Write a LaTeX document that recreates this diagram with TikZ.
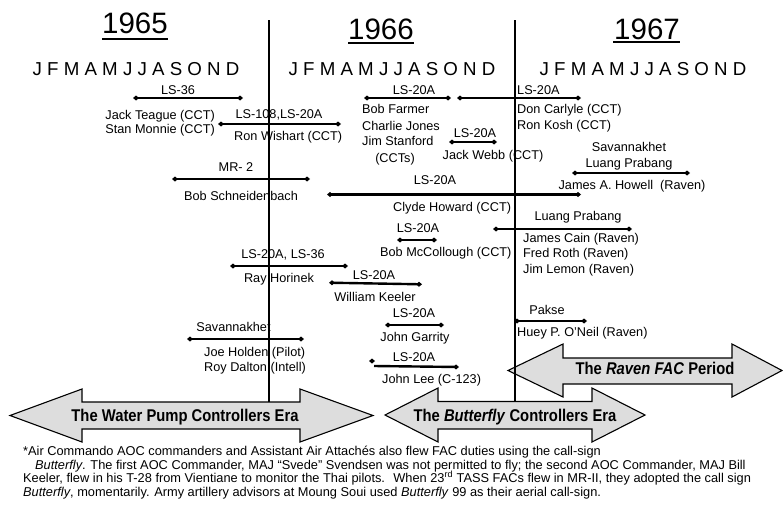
\documentclass[tikz,border=0pt]{standalone}
\usepackage{fontspec}
\setmainfont{Liberation Sans}
\usetikzlibrary{arrows.meta}
\definecolor{eraFill}{RGB}{221,221,221}
\tikzset{
  lbl/.style={inner sep=0pt, anchor=base, yshift=-4.5pt, font=\fontsize{12.7}{14}\selectfont},
  lblL/.style={lbl, anchor=base west},
  lblR/.style={lbl, anchor=base east},
  yearlbl/.style={inner sep=0pt, anchor=base, font=\fontsize{29.5}{32}\selectfont},
  monthlbl/.style={inner sep=0pt, anchor=base, font=\fontsize{18.7}{20}\selectfont},
  timeline/.style={line width=2pt},
  bar/.style={line width=2.4pt, {Diamond[length=6pt,width=5pt]}-{Diamond[length=6pt,width=5pt]}},
  era/.style={draw=black, line width=1.1pt, fill=eraFill, line join=miter},
  eratext/.style={inner sep=0pt, anchor=base, xscale=0.87, font=\fontsize{17}{20}\selectfont\bfseries},
  note/.style={inner sep=0pt, anchor=base west, font=\fontsize{12.8}{14}\selectfont},
}
\begin{document}
\begin{tikzpicture}[x=1pt,y=-1pt]
\useasboundingbox (0,0) rectangle (783,506);
\fill[white] (0,0) rectangle (783,506);

% ---- years and months ----
\node[yearlbl] (y65) at (135,33) {1965};
\node[yearlbl] (y66) at (381,39) {1966};
\node[yearlbl] (y67) at (647,39) {1967};
% underlines under the year headings
\coordinate (u65a) at (102,38);   \coordinate (u65b) at (168,40);
\coordinate (u66a) at (348,41.5); \coordinate (u66b) at (414,43.5);
\coordinate (u67a) at (613,41);   \coordinate (u67b) at (680,43);
\fill[black] (u65a) rectangle (u65b);
\fill[black] (u66a) rectangle (u66b);
\fill[black] (u67a) rectangle (u67b);
\node[monthlbl] (m65) at (136,75) {J F M A M J J A S O N D};
\node[monthlbl] (m66) at (392,75) {J F M A M J J A S O N D};
\node[monthlbl] (m67) at (643,75) {J F M A M J J A S O N D};

% ---- Raven period arrow (under the year divider) ----
\draw[era] (508,370.5) -- (563,344) -- (563,358) -- (732,358) -- (732,344)
  -- (782,370.5) -- (732,397) -- (732,384) -- (563,384) -- (563,397) -- cycle;
\node[eratext] (raven) at (655,374) {The \textit{Raven FAC} Period};

% ---- year dividers ----
\coordinate (d1t) at (268.5,20); \coordinate (d1b) at (268.5,402);
\coordinate (d2t) at (515,20);   \coordinate (d2b) at (515,401);
\draw[timeline] (d1t) -- (d1b);
\draw[timeline] (d2t) -- (d2b);

% ---- era arrows ----
\draw[era] (10,415.5) -- (82,389) -- (82,402) -- (300,402) -- (300,389)
  -- (373,415.5) -- (300,442) -- (300,429) -- (82,429) -- (82,442) -- cycle;
\node[eratext] (water) at (185,421.5) {The Water Pump Controllers Era};
\draw[era] (385,415) -- (438,388) -- (438,401.5) -- (592,401.5) -- (592,388)
  -- (645,415) -- (592,442) -- (592,429) -- (438,429) -- (438,442) -- cycle;
\node[eratext] (butter) at (515,421) {The \textit{Butterfly} Controllers Era};

% ---- service bars ----
% LS-36
\coordinate (b1a) at (133,98); \coordinate (b1b) at (243,98);
\draw[bar] (b1a) -- (b1b);
\node[lbl] (b1l) at (178,90) {LS-36};
\node[lblR] (n1) at (215,115) {Jack Teague (CCT)};
\node[lblR] (n2) at (215,129) {Stan Monnie (CCT)};

% LS-108, LS-20A
\coordinate (b2a) at (218,124); \coordinate (b2b) at (341,124);
\draw[bar] (b2a) -- (b2b);
\node[lbl] (b2l) at (279,114) {LS-108,LS-20A};
\node[lblL] (n3) at (234,136) {Ron Wishart (CCT)};

% LS-20A, Farmer group
\coordinate (b3a) at (364,98); \coordinate (b3b) at (451,98);
\draw[bar] (b3a) -- (b3b);
\node[lbl] (b3l) at (414,90) {LS-20A};
\node[lblL] (n4) at (362,109) {Bob Farmer};
\node[lblL] (n5) at (362,126) {Charlie Jones};
\node[lblL] (n6) at (362,141) {Jim Stanford};
\node[lbl] (n7) at (395,158) {(CCTs)};

% LS-20A, Carlyle / Kosh
\coordinate (b4a) at (457,98); \coordinate (b4b) at (581,98);
\draw[bar] (b4a) -- (b4b);
\node[lblL] (b4l) at (517,90) {LS-20A};
\node[lblL] (n8) at (517,109) {Don Carlyle (CCT)};
\node[lblL] (n9) at (517,125) {Ron Kosh (CCT)};

% LS-20A, Webb
\coordinate (b5a) at (449,142); \coordinate (b5b) at (497,142);
\draw[bar] (b5a) -- (b5b);
\node[lbl] (b5l) at (475,133) {LS-20A};
\node[lbl] (n10) at (493,155) {Jack Webb (CCT)};

% MR-2
\coordinate (b6a) at (172,179); \coordinate (b6b) at (310,179);
\draw[bar] (b6a) -- (b6b);
\node[lbl] (b6l) at (236,167) {MR- 2};
\node[lbl] (n11) at (241,196) {Bob Schneidenbach};

% Savannakhet / Luang Prabang, Howell
\coordinate (b7a) at (572,173); \coordinate (b7b) at (690,173);
\draw[bar] (b7a) -- (b7b);
\node[lbl] (b7l) at (629,147) {Savannakhet};
\node[lbl] (b7m) at (629,163) {Luang Prabang};
\node[lbl] (n12) at (632,185) {James A. Howell\ \ (Raven)};

% LS-20A, Clyde Howard
\coordinate (b8a) at (327,194.5); \coordinate (b8b) at (581,194.5);
\draw[bar] (b8a) -- (b8b);
\node[lbl] (b8l) at (435,180) {LS-20A};
\node[lblL] (n13) at (393,207) {Clyde Howard (CCT)};

% Luang Prabang, Cain / Roth / Lemon
\coordinate (b9a) at (493,229); \coordinate (b9b) at (632,229);
\draw[bar] (b9a) -- (b9b);
\node[lbl] (b9l) at (578,216) {Luang Prabang};
\node[lblL] (n14) at (523,238) {James Cain (Raven)};
\node[lblL] (n15) at (523,253) {Fred Roth (Raven)};
\node[lblL] (n16) at (523,269) {Jim Lemon (Raven)};

% LS-20A, McCollough
\coordinate (b10a) at (397,240); \coordinate (b10b) at (437,240);
\draw[bar] (b10a) -- (b10b);
\node[lbl] (b10l) at (418,228) {LS-20A};
\node[lblL] (n17) at (380,252) {Bob McCollough (CCT)};

% LS-20A, LS-36, Horinek
\coordinate (b11a) at (230,266); \coordinate (b11b) at (348,266);
\draw[bar] (b11a) -- (b11b);
\node[lbl] (b11l) at (283,254) {LS-20A, LS-36};
\node[lbl] (n18) at (279,278) {Ray Horinek};

% LS-20A, Keeler
\coordinate (b12a) at (329,282.7); \coordinate (b12b) at (422,284.3);
\draw[bar] (b12a) -- (b12b);
\node[lbl] (b12l) at (374,275) {LS-20A};
\node[lbl] (n19) at (375,297) {William Keeler};

% LS-20A, Garrity
\coordinate (b13a) at (385,325); \coordinate (b13b) at (444,325);
\draw[bar] (b13a) -- (b13b);
\node[lbl] (b13l) at (414,313) {LS-20A};
\node[lbl] (n20) at (415,337) {John Garrity};

% Pakse, O'Neil
\coordinate (b14a) at (514,321); \coordinate (b14b) at (587,321);
\draw[bar] (b14a) -- (b14b);
\node[lbl] (b14l) at (547,310) {Pakse};
\node[lblL] (n21) at (517,332) {Huey P. O’Neil (Raven)};

% Savannakhet, Holden / Dalton
\coordinate (b15a) at (187,339); \coordinate (b15b) at (304,339);
\draw[bar] (b15a) -- (b15b);
\node[lbl] (b15l) at (233.5,327) {Savannakhet};
\node[lblL] (n22) at (204,352) {Joe Holden (Pilot)};
\node[lblL] (n23) at (204,367) {Roy Dalton (Intell)};

% LS-20A, John Lee (start mark sits a little above the bar)
\coordinate (b16m) at (372,361);
\coordinate (b16a) at (374,366); \coordinate (b16b) at (459,367);
\fill (b16m) ++(-3,0) -- ++(3,-2.5) -- ++(3,2.5) -- ++(-3,2.5) -- cycle;
\draw[line width=2.4pt, -{Diamond[length=6pt,width=5pt]}] (b16a) -- (b16b);
\node[lbl] (b16l) at (414,357) {LS-20A};
\node[lblL] (n24) at (382,379) {John Lee (C-123)};

% ---- footnote ----
\node[note] (f1) at (23,455) {*Air Commando AOC commanders and Assistant Air Attachés also flew FAC duties using the call-sign};
\node[note] (f2) at (35,469) {\textit{Butterfly}. The first AOC Commander, MAJ “Svede” Svendsen was not permitted to fly; the second AOC Commander, MAJ Bill};
\node[note] (f3) at (23,482) {Keeler, flew in his T-28 from Vientiane to monitor the Thai pilots.~ When 23\textsuperscript{rd} TASS FACs flew in MR-II, they adopted the call sign};
\node[note] (f4) at (23,496) {\textit{Butterfly}, momentarily. Army artillery advisors at Moung Soui used \textit{Butterfly} 99 as their aerial call-sign.};
\end{tikzpicture}
\end{document}
